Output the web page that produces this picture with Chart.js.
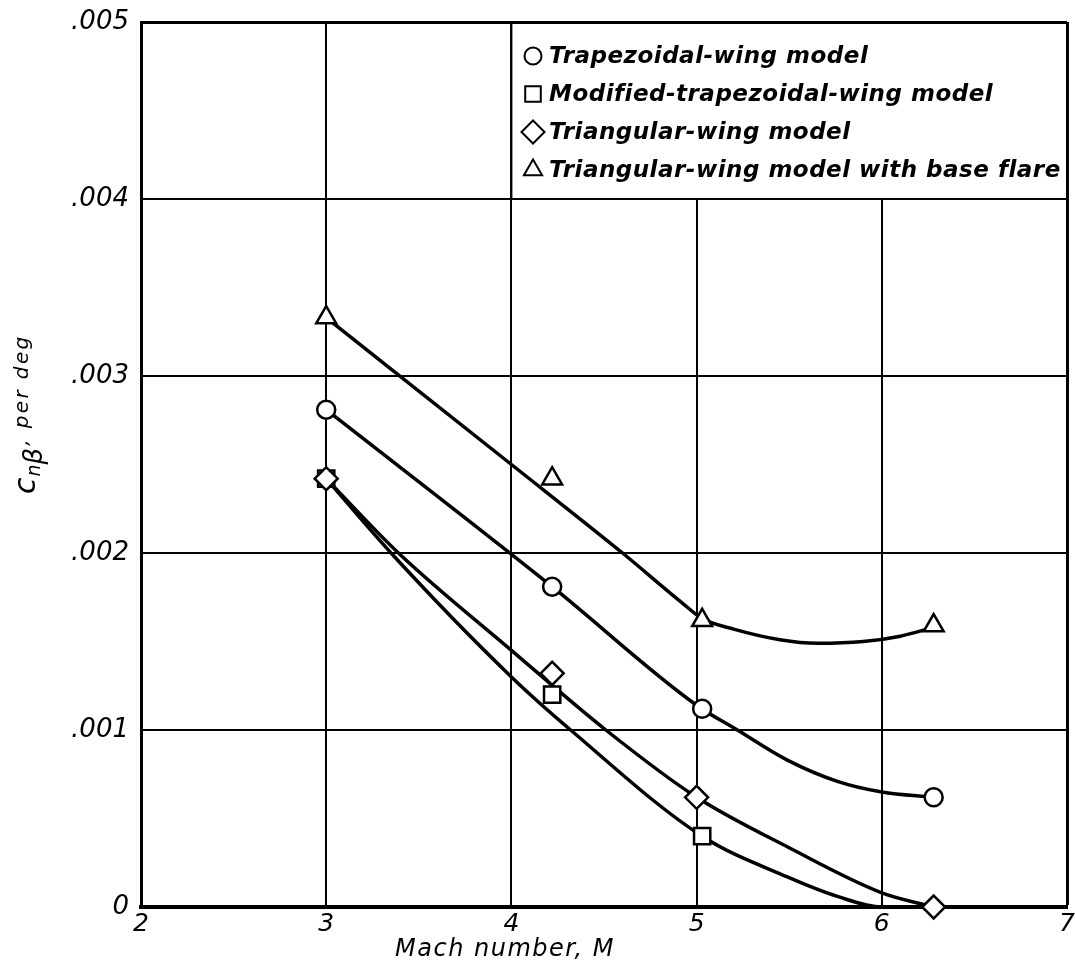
<!DOCTYPE html>
<html>
<head>
<meta charset="utf-8">
<script src="https://cdn.jsdelivr.net/npm/chart.js@4.4.1/dist/chart.umd.min.js"></script>
<style>
  html, body { margin: 0; padding: 0; background: #fff; }
  canvas { display: block; }
</style>
</head>
<body>
<canvas id="chart" width="1075" height="969"></canvas>
<script>
// Measured points: Mach number and directional-stability derivative (per deg)
const trapMach   = [3.0, 4.22, 5.03, 6.28];
const trapCn     = [0.00281, 0.00181, 0.00112, 0.00062];
const modMach    = [3.0, 4.22, 5.03];
const modCn      = [0.00242, 0.00120, 0.00040];
const triMach    = [3.0, 4.22, 5.0, 6.28];
const triCn      = [0.00242, 0.00132, 0.00062, 0.0];
const flareMach  = [3.0, 4.22, 5.03, 6.28];
const flareCn    = [0.00333, 0.00242, 0.00162, 0.00159];

// Faired curves through each model's data
const trapFairMach  = [3.0, 4.22, 5.0, 5.22, 5.49, 5.76, 6.0, 6.28];
const trapFairCn    = [0.00281, 0.00181, 0.00114, 0.00100, 0.00083, 0.00071, 0.00065, 0.00062];
const modFairMach   = [3.0, 3.35, 4.0, 4.32, 5.03, 5.49, 5.76, 6.0, 7.0];
const modFairCn     = [0.00242, 0.00200, 0.00130, 0.00100, 0.00040, 0.00017, 0.00006, 0.0, 0.0];
const triFairMach   = [3.0, 3.39, 4.0, 4.51, 5.0, 5.49, 6.0, 6.28];
const triFairCn     = [0.00242, 0.00200, 0.00145, 0.00100, 0.00062, 0.00034, 0.00008, 0.0];
const flareFairMach = [3.0, 4.0, 4.6, 4.92, 5.03, 5.2, 5.45, 5.65, 5.9, 6.1, 6.28];
const flareFairCn   = [0.00333, 0.00250, 0.00200, 0.00172, 0.00163, 0.00157, 0.00151, 0.00149, 0.00150, 0.00153, 0.00158];

// Series names and axis text
const seriesNames = [
  'Trapezoidal-wing model',
  'Modified-trapezoidal-wing model',
  'Triangular-wing model',
  'Triangular-wing model with base flare'
];
const xTitle = 'Mach number, M';
const xTicks = [2, 3, 4, 5, 6, 7];
const yTicks = [0, 0.001, 0.002, 0.003, 0.004, 0.005];

const INK = '#000';
const FONT = "'DejaVu Sans', sans-serif";

const pairs = (xs, ys) => xs.map((v, i) => ({ x: v, y: ys[i] }));

function markerSet(label, xs, ys, style, r, order) {
  return {
    label, data: pairs(xs, ys), showLine: false, order, clip: false,
    pointStyle: style, pointRadius: r, pointHoverRadius: r,
    pointBackgroundColor: '#fff', pointBorderColor: INK, pointBorderWidth: 2.5
  };
}
function curveSet(xs, ys) {
  return {
    label: '', data: pairs(xs, ys), showLine: true, order: 1,
    borderColor: INK, borderWidth: 3.5, pointRadius: 0, pointHoverRadius: 0,
    cubicInterpolationMode: 'monotone', fill: false, isCurve: true
  };
}

// Open marker shapes, used for the key
function drawMark(ctx, style, cx, cy, r) {
  ctx.beginPath();
  if (style === 'circle') {
    ctx.arc(cx, cy, r, 0, Math.PI * 2);
  } else if (style === 'rect') {
    const h = r * Math.SQRT1_2;
    ctx.rect(cx - h, cy - h, 2 * h, 2 * h);
  } else if (style === 'rectRot') {
    ctx.moveTo(cx, cy - r); ctx.lineTo(cx + r, cy);
    ctx.lineTo(cx, cy + r); ctx.lineTo(cx - r, cy); ctx.closePath();
  } else if (style === 'triangle') {
    for (let k = 0; k < 3; k++) {
      const a = -Math.PI / 2 + k * 2 * Math.PI / 3;
      const px = cx + r * Math.cos(a), py = cy + r * Math.sin(a);
      k ? ctx.lineTo(px, py) : ctx.moveTo(px, py);
    }
    ctx.closePath();
  }
  ctx.fillStyle = '#fff';
  ctx.fill();
  ctx.stroke();
}

const decor = {
  id: 'decor',
  beforeDraw(chart) {
    const ctx = chart.ctx;
    ctx.save();
    ctx.fillStyle = '#fff';
    ctx.fillRect(0, 0, chart.width, chart.height);
    ctx.restore();
  },
  afterDatasetsDraw(chart) {
    const { ctx, scales: { x, y } } = chart;
    // Key box occupying the upper-right grid cells
    const l = x.getPixelForValue(4), r = x.getPixelForValue(7);
    const t = y.getPixelForValue(0.005), b = y.getPixelForValue(0.004);
    ctx.save();
    ctx.fillStyle = '#fff';
    ctx.fillRect(l + 1, t + 2, r - l - 3, b - t - 3);
    ctx.strokeStyle = INK;
    ctx.lineWidth = 2;
    ctx.beginPath();
    ctx.moveTo(l, t); ctx.lineTo(l, b); ctx.lineTo(r, b);
    ctx.stroke();

    const keyed = chart.data.datasets.filter(d => !d.isCurve);
    const sizes = { circle: 8.5, rect: 11, rectRot: 11.5, triangle: 10.5 };
    const rowY = [56, 94, 132, 170];
    ctx.font = "italic bold 23px " + FONT;
    ctx.letterSpacing = '0.5px';
    ctx.textBaseline = 'middle';
    ctx.textAlign = 'left';
    keyed.forEach((d, i) => {
      ctx.lineWidth = 2;
      ctx.strokeStyle = INK;
      drawMark(ctx, d.pointStyle, 533, rowY[i], sizes[d.pointStyle]);
      ctx.fillStyle = INK;
      ctx.fillText(d.label, 549, rowY[i] + 1);
    });
    ctx.restore();
  },
  afterDraw(chart) {
    const ctx = chart.ctx;
    ctx.save();
    ctx.fillStyle = INK;
    // x-axis title
    ctx.font = "italic 24px " + FONT;
    ctx.letterSpacing = '1.5px';
    ctx.textAlign = 'center';
    ctx.textBaseline = 'alphabetic';
    ctx.fillText(xTitle, 505, 956);

    // y-axis title: c sub n sub beta, per deg (rotated)
    ctx.translate(35, 494);
    ctx.rotate(-Math.PI / 2);
    ctx.textAlign = 'left';
    ctx.letterSpacing = '0px';
    let cx = 0;
    ctx.font = "italic 30px " + FONT;
    ctx.fillText('c', cx, 0);
    cx += ctx.measureText('c').width + 1;
    ctx.font = "italic 19px " + FONT;
    ctx.fillText('n', cx, 5);
    cx += ctx.measureText('n').width;
    ctx.font = "italic 26px " + FONT;
    ctx.fillText('\u03B2', cx, 7);
    cx += ctx.measureText('\u03B2').width + 2;
    ctx.font = "italic 20px " + FONT;
    ctx.letterSpacing = '2.4px';
    ctx.fillText(', per deg', cx, -7);
    ctx.restore();
  }
};

const datasets = [
  markerSet(seriesNames[0], trapMach, trapCn, 'circle', 9, 0),
  markerSet(seriesNames[1], modMach, modCn, 'rect', 11.5, 0.5),
  markerSet(seriesNames[2], triMach, triCn, 'rectRot', 11.5, 0),
  markerSet(seriesNames[3], flareMach, flareCn, 'triangle', 11.5, 0),
  curveSet(trapFairMach, trapFairCn),
  curveSet(modFairMach, modFairCn),
  curveSet(triFairMach, triFairCn),
  curveSet(flareFairMach, flareFairCn)
];

new Chart(document.getElementById('chart'), {
  type: 'scatter',
  data: { datasets },
  options: {
    responsive: false,
    animation: false,
    events: [],
    layout: { autoPadding: false, padding: { top: 22, right: 8, left: 0, bottom: 0 } },
    plugins: { legend: { display: false }, tooltip: { enabled: false } },
    scales: {
      x: {
        type: 'linear', min: xTicks[0], max: xTicks[xTicks.length - 1],
        afterFit(s) { s.height = 62; s.paddingLeft = 0; s.paddingRight = 0; },
        afterBuildTicks(s) { s.ticks = xTicks.map(v => ({ value: v })); },
        ticks: {
          color: INK, padding: 2, maxRotation: 0,
          font: { family: FONT, size: 25, style: 'italic' },
          callback: v => String(v)
        },
        grid: {
          color: INK, drawTicks: false,
          lineWidth: c => (c.tick && c.tick.value === 7 ? 3 : 2)
        },
        border: { display: true, color: INK, width: 4 }
      },
      y: {
        type: 'linear', min: yTicks[0], max: yTicks[yTicks.length - 1],
        afterFit(s) { s.width = 141; s.paddingTop = 0; s.paddingBottom = 0; },
        afterBuildTicks(s) { s.ticks = yTicks.map(v => ({ value: v })); },
        ticks: {
          color: INK, padding: 12,
          font: { family: FONT, size: 26, style: 'italic' },
          callback: v => (v === 0 ? '0' : '.' + String(Math.round(v * 1000)).padStart(3, '0'))
        },
        grid: {
          color: INK, drawTicks: false,
          lineWidth: c => (c.tick && c.tick.value === 0.005 ? 3 : 2)
        },
        border: { display: true, color: INK, width: 3 }
      }
    }
  },
  plugins: [decor]
});
</script>
</body>
</html>
